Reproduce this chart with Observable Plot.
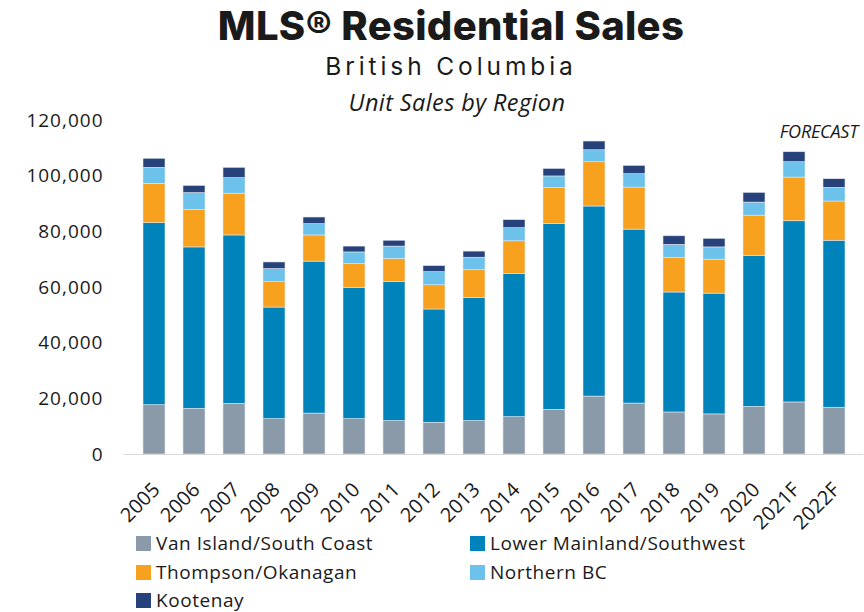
<!DOCTYPE html>
<html>
<head>
<meta charset="utf-8">
<script src="https://cdn.jsdelivr.net/npm/d3@7"></script>
<script src="https://cdn.jsdelivr.net/npm/@observablehq/plot@0.6"></script>
<style>
  html, body { margin: 0; padding: 0; background: #fff; }
  #wrap { position: relative; width: 864px; height: 612px; overflow: hidden; font-family: "Open Sans", sans-serif; color: #1a1a1a; }
  .abs { position: absolute; white-space: nowrap; line-height: 1.2; }
  #title { left: 0; width: 902px; text-align: center; top: 2px; font-family: Inter, sans-serif; font-weight: 800; font-size: 40px; letter-spacing: 0.3px; }
  #sub { left: 0; width: 902px; text-align: center; top: 52px; font-family: Inter, sans-serif; font-weight: 400; font-size: 24.5px; letter-spacing: 3.9px; }
  #sub2 { left: 0; width: 914px; text-align: center; top: 88px; font-style: italic; font-size: 23.5px; letter-spacing: 0.4px; }
  #fc { right: 6px; top: 121px; font-style: italic; font-size: 18px; letter-spacing: -0.2px; }
  #plot { position: absolute; left: 0; top: 0; }
  .leg { font-size: 19px; letter-spacing: 0.55px; display: flex; align-items: center; }
  .sw { width: 15px; height: 15px; margin-right: 5px; display: inline-block; }
</style>
</head>
<body>
<div id="wrap">
  <div id="plot"></div>
  <div class="abs" id="title">MLS® Residential Sales</div>
  <div class="abs" id="sub">British Columbia</div>
  <div class="abs" id="sub2">Unit Sales by Region</div>
  <div class="abs" id="fc">FORECAST</div>
  <div id="legend"></div>
</div>
<script>
const years = ["2005","2006","2007","2008","2009","2010","2011","2012","2013","2014","2015","2016","2017","2018","2019","2020","2021F","2022F"];
const regions = ["Van Island/South Coast","Lower Mainland/Southwest","Thompson/Okanagan","Northern BC","Kootenay"];
const colors = ["#8a9aa9","#0083bb","#f7a11f","#6cc2ea","#27417a"];
const vanIsland = [17700,16400,18200,12700,14700,12700,12000,11400,12000,13400,16050,20800,18300,15100,14400,17100,18700,16800];
const lowerMainland = [65400,58000,60500,40100,54600,47200,49900,40700,44200,51500,66700,68300,62500,43100,43400,54300,65100,60000];
const thompson = [14150,13500,15000,9100,9400,8500,8400,8700,10000,11700,12950,15900,15100,12500,12200,14400,15700,14100];
const northern = [5750,6000,5600,4700,4050,4200,4400,4700,4500,4700,4200,4300,4800,4600,4400,4700,5500,4900];
const kootenay = [3250,2600,3700,2400,2400,2100,2100,2200,2200,2900,2700,3150,3000,3100,3100,3500,3600,3100];
const yTicks = [0,20000,40000,60000,80000,100000,120000];

const series = [vanIsland, lowerMainland, thompson, northern, kootenay];
const data = [];
years.forEach((y, i) => regions.forEach((r, j) => data.push({year: y, region: r, value: series[j][i]})));

const chart = Plot.plot({
  width: 864,
  height: 560,
  marginTop: 120,
  marginBottom: 106,
  marginLeft: 124,
  marginRight: 1,
  style: {fontFamily: "'Open Sans', sans-serif", fontSize: "19px", color: "#1a1a1a", background: "transparent"},
  x: {domain: years, padding: 0.46, label: null},
  y: {domain: [0, 120000], label: null},
  color: {domain: regions, range: colors},
  marks: [
    Plot.barY(data, Plot.stackY({x: "year", y: "value", fill: "region", order: regions, stroke: "#dfe6ee", strokeWidth: 0.6})),
    Plot.ruleY([0], {stroke: "#d9d9d9", strokeWidth: 1.2}),
    Plot.axisY({ticks: yTicks, tickFormat: d3.format(","), tickSize: 0, tickPadding: 21, fontSize: 19, label: null}),
    Plot.axisX({tickRotate: -45, tickSize: 0, tickPadding: 32, dx: 2, fontSize: 20, label: null})
  ]
});
chart.querySelectorAll("[aria-label='y-axis tick label'] text").forEach(t => t.setAttribute("letter-spacing", "1px"));
document.getElementById("plot").appendChild(chart);

const legendPos = [[136, 532], [470, 532], [136, 561], [470, 561], [136, 589]];
const leg = document.getElementById("legend");
regions.forEach((r, j) => {
  const d = document.createElement("div");
  d.className = "abs leg";
  d.style.left = legendPos[j][0] + "px";
  d.style.top = legendPos[j][1] + "px";
  d.innerHTML = `<span class="sw" style="background:${colors[j]}"></span>${r}`;
  leg.appendChild(d);
});
</script>
</body>
</html>
